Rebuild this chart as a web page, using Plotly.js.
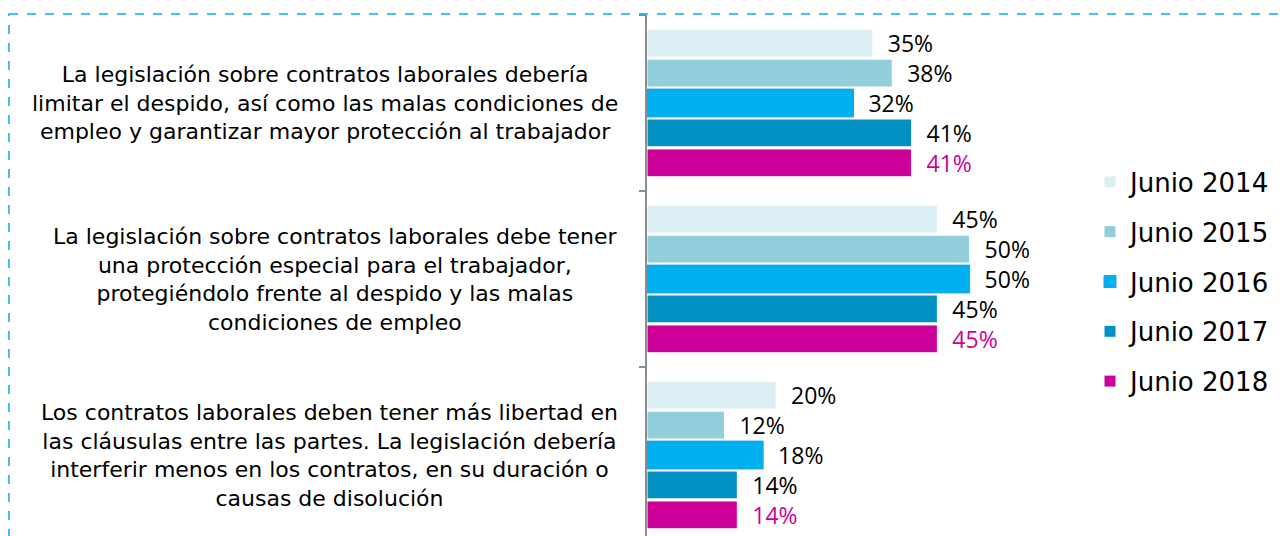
<!DOCTYPE html>
<html>
<head>
<meta charset="utf-8">
<script src="https://cdn.plot.ly/plotly-3.0.1.min.js"></script>
<style>html,body{margin:0;padding:0;background:#fff;}#chart{width:1287px;height:536px;}</style>
</head>
<body>
<div id="chart"></div>
<script>
const categories = ['cat1', 'cat2', 'cat3'];
const categoryLabels = [
  'La legislación sobre contratos laborales debería<br>limitar el despido, así como las malas condiciones de<br>empleo y garantizar mayor protección al trabajador',
  'La legislación sobre contratos laborales debe tener<br>una protección especial para el trabajador,<br>protegiéndolo frente al despido y las malas<br>condiciones de empleo',
  'Los contratos laborales deben tener más libertad en<br>las cláusulas entre las partes. La legislación debería<br>interferir menos en los contratos, en su duración o<br>causas de disolución'
];
const seriesNames = ['Junio 2014', 'Junio 2015', 'Junio 2016', 'Junio 2017', 'Junio 2018'];
const junio2014 = [35, 45, 20];
const junio2015 = [38, 50, 12];
const junio2016 = [32, 50, 18];
const junio2017 = [41, 45, 14];
const junio2018 = [41, 45, 14];
const seriesValues = [junio2014, junio2015, junio2016, junio2017, junio2018];
const seriesColors = ['#DAEEF3', '#92CDDC', '#00B0F0', '#0090C2', '#CC0099'];
const labelColors = ['#000000', '#000000', '#000000', '#000000', '#CC0099'];

const traces = seriesValues.map((vals, i) => ({
  type: 'bar',
  orientation: 'h',
  name: seriesNames[i],
  y: categories,
  x: vals,
  legendgroup: 'g' + i,
  marker: {color: seriesColors[i], line: {color: i === 2 ? '#1FA3D8' : '#ffffff', width: 1}},
  text: vals.map(v => '\u00a0\u00a0' + v + '%'),
  textposition: 'outside',
  constraintext: 'none',
  textfont: {family: 'Open Sans, sans-serif', size: 23, color: labelColors[i]},
  cliponaxis: false,
  hoverinfo: 'skip'
}));

const annotations = categories.map((c, i) => ({
  xref: 'paper', yref: 'y', x: 0, y: c, xshift: -27,
  xanchor: 'right', yanchor: 'middle', align: 'center',
  text: categoryLabels[i], showarrow: false,
  font: {family: 'DejaVu Sans, sans-serif', size: 22, color: '#000000'}
}));

const W = 1287, H = 536, ml = 647, mr = 207, mt = 15, mb = 0;
const pw = W - ml - mr, ph = H - mt - mb;
const px = v => (v - ml) / pw;
const py = v => (H - mb - v) / ph;

const layout = {
  width: W, height: H,
  margin: {l: ml, r: mr, t: mt, b: mb, pad: 0},
  paper_bgcolor: '#ffffff', plot_bgcolor: '#ffffff',
  barmode: 'group', bargap: 0.15, bargroupgap: 0.07,
  showlegend: true,
  legend: {x: px(1090), xanchor: 'left', y: py(282), yanchor: 'middle', traceorder: 'grouped', tracegroupgap: 13,
    font: {family: 'DejaVu Sans, sans-serif', size: 26, color: '#000000'}, bgcolor: 'rgba(0,0,0,0)'},
  xaxis: {range: [0, 67.1], showgrid: false, zeroline: false, showline: false, showticklabels: false, ticks: ''},
  yaxis: {type: 'category', categoryorder: 'array', categoryarray: categories, range: [2.46, -0.5],
    showgrid: false, zeroline: false, showline: true, linecolor: '#8c8c8c', linewidth: 2,
    showticklabels: false, ticks: 'outside', tickson: 'boundaries', ticklen: 6, tickcolor: '#8c8c8c', tickwidth: 1.5},
  annotations: annotations,
  shapes: [{type: 'rect', xref: 'paper', yref: 'paper', x0: px(9), x1: px(1300), y0: py(14), y1: py(560),
    line: {color: '#00B0F0', width: 1.5, dash: 'dash'}, fillcolor: 'rgba(0,0,0,0)', layer: 'above'}],
  font: {family: 'DejaVu Sans, sans-serif'}
};

Plotly.newPlot('chart', traces, layout, {displayModeBar: false, staticPlot: true});
</script>
</body>
</html>
